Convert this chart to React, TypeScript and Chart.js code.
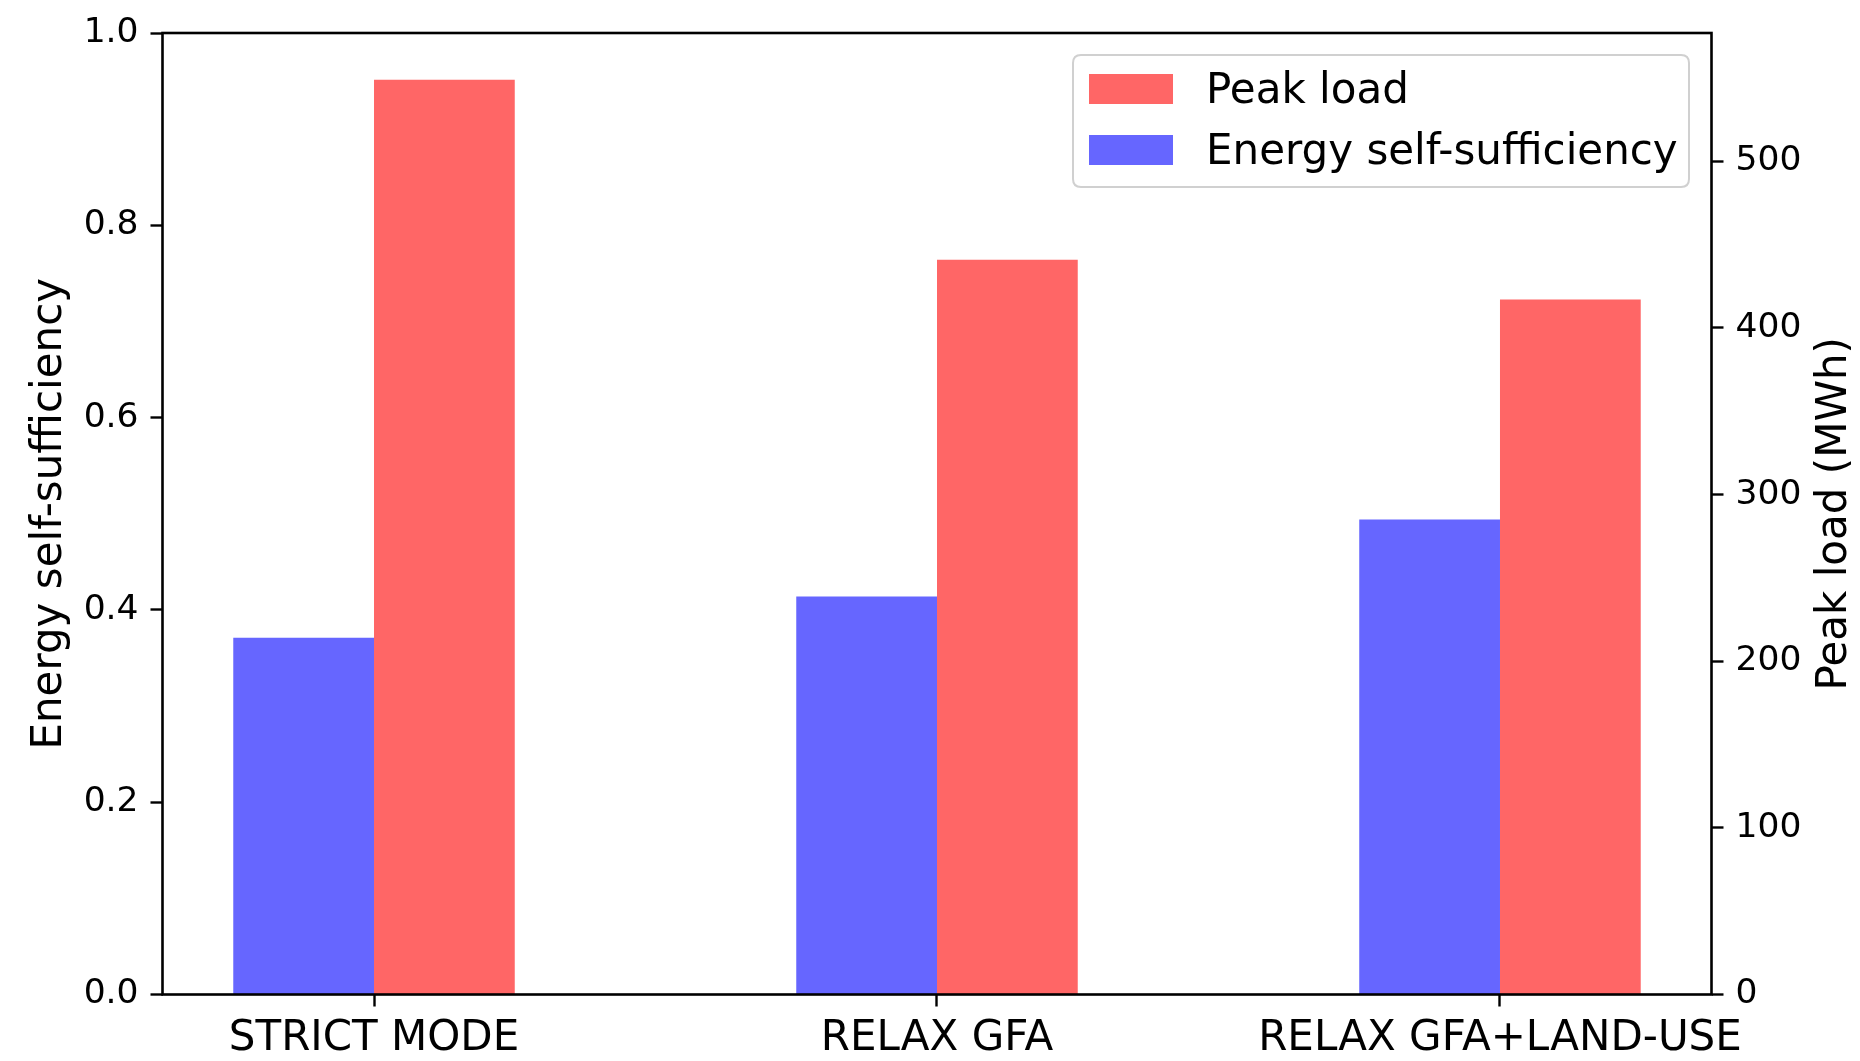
import React, { useEffect, useRef } from 'react';
import { Chart, registerables } from 'chart.js';

Chart.register(...registerables);

const categories = ['STRICT MODE', 'RELAX GFA', 'RELAX GFA+LAND-USE'];
const selfSufficiency = [0.371, 0.414, 0.494];
const peakLoad = [549, 441, 417];
const leftTicks = [0, 0.2, 0.4, 0.6, 0.8, 1.0];
const rightTicks = [0, 100, 200, 300, 400, 500];
const categoryTicks = [0, 1, 2];
const leftTitle = 'Energy self-sufficiency';
const rightTitle = 'Peak load (MWh)';
const seriesLabels = ['Energy self-sufficiency', 'Peak load'];
const seriesColors = ['#6666ff', '#ff6666'];

const FONT = '"DejaVu Sans", sans-serif';
const LABEL_SIZE = 42;
const TICK_SIZE = 34.5;

const framePlugin = {
  id: 'frame',
  afterDatasetsDraw(chart: any) {
    const { ctx, chartArea: a } = chart;
    ctx.save();
    ctx.strokeStyle = '#000';
    ctx.lineWidth = 2.6;
    ctx.strokeRect(a.left, a.top, a.right - a.left, a.bottom - a.top);
    ctx.restore();
  },
};

const extrasPlugin = {
  id: 'extras',
  afterDraw(chart: any) {
    const { ctx, chartArea: a } = chart;
    ctx.save();
    // right axis title (reads bottom to top)
    ctx.font = `${LABEL_SIZE}px ${FONT}`;
    ctx.fillStyle = '#000';
    ctx.textAlign = 'center';
    ctx.textBaseline = 'middle';
    ctx.translate(1835.5, (a.top + a.bottom) / 2);
    ctx.rotate(-Math.PI / 2);
    ctx.fillText(rightTitle, 0, 0);
    ctx.restore();

    // legend
    const ds = chart.data.datasets.slice().reverse();
    const w = 616;
    const h = 132;
    const x = a.right - 22.5 - w;
    const y = a.top + 22;
    ctx.save();
    ctx.beginPath();
    const r = 8;
    ctx.moveTo(x + r, y);
    ctx.lineTo(x + w - r, y);
    ctx.quadraticCurveTo(x + w, y, x + w, y + r);
    ctx.lineTo(x + w, y + h - r);
    ctx.quadraticCurveTo(x + w, y + h, x + w - r, y + h);
    ctx.lineTo(x + r, y + h);
    ctx.quadraticCurveTo(x, y + h, x, y + h - r);
    ctx.lineTo(x, y + r);
    ctx.quadraticCurveTo(x, y, x + r, y);
    ctx.closePath();
    ctx.fillStyle = 'rgba(255,255,255,0.8)';
    ctx.fill();
    ctx.strokeStyle = '#d0d0d0';
    ctx.lineWidth = 2;
    ctx.stroke();
    ds.forEach((d: any, i: number) => {
      const cy = y + 34 + i * 61;
      ctx.fillStyle = d.backgroundColor;
      ctx.fillRect(x + 16, cy - 15, 84, 30);
      ctx.fillStyle = '#000';
      ctx.font = `${LABEL_SIZE}px ${FONT}`;
      ctx.textAlign = 'left';
      ctx.textBaseline = 'middle';
      ctx.fillText(d.label, x + 133, cy + 3);
    });
    ctx.restore();
  },
};

export default function App() {
  const ref = useRef<HTMLCanvasElement>(null);
  useEffect(() => {
    if (!ref.current) return;
    const tickGrid = {
      display: true,
      drawOnChartArea: false,
      drawTicks: true,
      tickLength: 12,
      tickWidth: 2.4,
      tickColor: '#000',
    };
    const chart = new Chart(ref.current, {
      type: 'bar',
      data: {
        datasets: [
          {
            label: seriesLabels[0],
            data: categoryTicks.map((c, i) => ({ x: c, y: selfSufficiency[i] })),
            backgroundColor: seriesColors[0],
            yAxisID: 'y',
            categoryPercentage: 0.5,
            barPercentage: 1.0,
          },
          {
            label: seriesLabels[1],
            data: categoryTicks.map((c, i) => ({ x: c, y: peakLoad[i] })),
            backgroundColor: seriesColors[1],
            yAxisID: 'y2',
            categoryPercentage: 0.5,
            barPercentage: 1.0,
          },
        ],
      },
      options: {
        responsive: false,
        animation: false,
        devicePixelRatio: 1,
        layout: { padding: { top: 33, left: 0, right: 0, bottom: 0 } },
        plugins: {
          legend: { display: false },
          tooltip: { enabled: false },
        },
        scales: {
          x: {
            type: 'linear',
            min: -0.3757,
            max: 2.3757,
            offset: false,
            grid: { ...tickGrid, offset: false },
            border: { display: false },
            afterBuildTicks: (s: any) => {
              s.ticks = categoryTicks.map((v) => ({ value: v }));
            },
            afterFit: (s: any) => {
              s.height = 66.5;
            },
            ticks: {
              autoSkip: false,
              maxRotation: 0,
              color: '#000',
              padding: 7,
              font: { family: FONT, size: LABEL_SIZE },
              callback: (v: any) => categories[Math.round(Number(v))] ?? '',
            },
          },
          y: {
            type: 'linear',
            position: 'left',
            min: 0,
            max: 1,
            grid: tickGrid,
            border: { display: false },
            afterBuildTicks: (s: any) => {
              s.ticks = leftTicks.map((v) => ({ value: v }));
            },
            afterFit: (s: any) => {
              s.width = 162.5;
            },
            title: {
              display: true,
              text: leftTitle,
              color: '#000',
              font: { family: FONT, size: LABEL_SIZE },
              padding: { top: 24.5, bottom: 0 },
            },
            ticks: {
              color: '#000',
              padding: 12,
              font: { family: FONT, size: TICK_SIZE },
              callback: (v: any) => Number(v).toFixed(1),
            },
          },
          y2: {
            type: 'linear',
            position: 'right',
            min: 0,
            max: 577,
            grid: tickGrid,
            border: { display: false },
            afterBuildTicks: (s: any) => {
              s.ticks = rightTicks.map((v) => ({ value: v }));
            },
            afterFit: (s: any) => {
              s.width = 148.5;
            },
            ticks: {
              color: '#000',
              padding: 12,
              font: { family: FONT, size: TICK_SIZE },
              callback: (v: any) => String(Math.round(Number(v))),
            },
          },
        },
      } as any,
      plugins: [framePlugin, extrasPlugin],
    });
    return () => chart.destroy();
  }, []);
  return (
    <div style={{ position: 'fixed', left: 0, top: 0, width: 1860, height: 1061, background: '#fff' }}>
      <canvas ref={ref} width={1860} height={1061} style={{ display: 'block' }} />
    </div>
  );
}
